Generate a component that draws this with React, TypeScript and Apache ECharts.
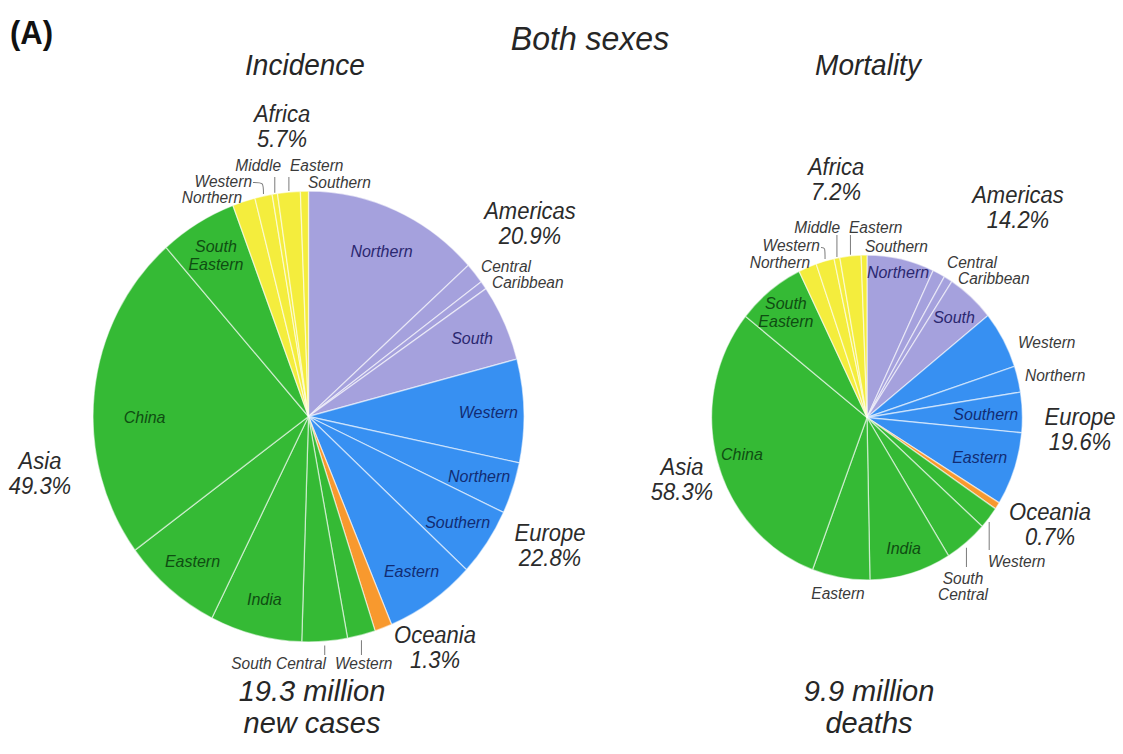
import React, { useEffect, useRef } from 'react';
import * as echarts from 'echarts';

// Share of the world total (%) by region, clockwise from 12 o'clock.
const continents = ['Americas', 'Europe', 'Oceania', 'Asia', 'Africa'];

const americasRegions = ['Northern', 'Central', 'Caribbean', 'South'];
const europeRegions = ['Western', 'Northern', 'Southern', 'Eastern'];
const oceaniaRegions = ['Oceania'];
const asiaRegions = ['Western', 'South Central', 'India', 'Eastern', 'China', 'South Eastern'];
const africaRegions = ['Northern', 'Western', 'Middle', 'Eastern', 'Southern'];

const incidenceAmericas = [13.3, 1.5, 0.6, 5.5];
const incidenceEurope = [7.4, 3.7, 4.9, 6.8];
const incidenceOceania = [1.3];
const incidenceAsia = [2.1, 3.4, 6.9, 7.5, 23.6, 5.8];
const incidenceAfrica = [1.7, 1.3, 0.4, 1.7, 0.6];

const mortalityAmericas = [7.0, 1.3, 0.9, 5.0];
const mortalityEurope = [5.7, 2.6, 4.0, 7.3];
const mortalityOceania = [0.7];
const mortalityAsia = [2.2, 4.5, 8.5, 6.0, 30.0, 7.1];
const mortalityAfrica = [1.9, 1.9, 0.6, 2.2, 0.6];

const incidenceMillions = 19.3;
const mortalityMillions = 9.9;

// ---- presentation ----
const W = 1123;
const STRETCH = 1.046; // the figure is slightly taller than wide
const H = 721;
const FONT = '"Liberation Sans", Arial, Helvetica, sans-serif';
const py = (y: number) => y / STRETCH;

const continentColors: Record<string, string> = {
  Americas: '#a5a1dd',
  Europe: '#3790f2',
  Oceania: '#f8992e',
  Asia: '#35ba35',
  Africa: '#f4ed3d',
};
const insideLabelColors: Record<string, string> = {
  Americas: '#2b2870',
  Europe: '#122c72',
  Asia: '#0f4d12',
};
const RING_FRACTION: Record<string, number> = { C: 0.765, A: 0.835, B: 0.915 };

type Geo = { cx: number; cy: number; r: number };
const incidenceGeo: Geo = { cx: 308.5, cy: py(416.5), r: 215.5 };
const mortalityGeo: Geo = { cx: 867, cy: py(417.5), r: 155.4 };

const regionLists = [americasRegions, europeRegions, oceaniaRegions, asiaRegions, africaRegions];

type Slice = { continent: string; region: string; value: number; key: string };

function buildSlices(valueLists: number[][]): Slice[] {
  const out: Slice[] = [];
  continents.forEach((c, ci) =>
    regionLists[ci].forEach((r, ri) =>
      out.push({ continent: c, region: r, value: valueLists[ci][ri], key: c + '/' + r })
    )
  );
  return out;
}

const incidenceSlices = buildSlices([incidenceAmericas, incidenceEurope, incidenceOceania, incidenceAsia, incidenceAfrica]);
const mortalitySlices = buildSlices([mortalityAmericas, mortalityEurope, mortalityOceania, mortalityAsia, mortalityAfrica]);

function midAngle(slices: Slice[], key: string) {
  const total = slices.reduce((s, d) => s + d.value, 0);
  let acc = 0;
  for (const d of slices) {
    if (d.key === key) return ((acc + d.value / 2) / total) * 360;
    acc += d.value;
  }
  return 0;
}
function edgePoint(geo: Geo, deg: number) {
  const a = (deg * Math.PI) / 180;
  return [geo.cx + geo.r * Math.sin(a), geo.cy - geo.r * Math.cos(a)];
}
function continentTotal(slices: Slice[], c: string) {
  return slices.filter((d) => d.continent === c).reduce((s, d) => s + d.value, 0);
}

// which label ring each inside label sits on
const incidenceInside: Record<string, string> = {
  'Americas/Northern': 'A', 'Americas/South': 'A',
  'Europe/Western': 'A', 'Europe/Northern': 'A', 'Europe/Southern': 'A', 'Europe/Eastern': 'A',
  'Asia/India': 'A', 'Asia/Eastern': 'A', 'Asia/China': 'C', 'Asia/South Eastern': 'A',
};
const mortalityInside: Record<string, string> = {
  'Americas/Northern': 'B', 'Americas/South': 'A',
  'Europe/Southern': 'C', 'Europe/Eastern': 'C',
  'Asia/India': 'A', 'Asia/China': 'A', 'Asia/South Eastern': 'A',
};
// vertical nudges (px) for inside labels that sit off their slice's middle
const incidenceNudge: Record<string, number> = { 'Asia/China': 18, 'Americas/Northern': 6 };
const mortalityNudge: Record<string, number> = {};

type Outside = { keys: string[]; x: number; y: number; align: string; text?: string };
const incidenceOutside: Outside[] = [
  { keys: ['Americas/Central', 'Americas/Caribbean'], x: 481, y: 274.5, align: 'left' },
  { keys: ['Africa/Middle'], x: 281, y: 165, align: 'right' },
  { keys: ['Africa/Eastern'], x: 290, y: 165, align: 'left' },
  { keys: ['Africa/Western'], x: 252, y: 181.5, align: 'right' },
  { keys: ['Africa/Southern'], x: 308, y: 182, align: 'left' },
  { keys: ['Africa/Northern'], x: 242, y: 197.5, align: 'right' },
  { keys: ['Asia/South Central'], x: 326, y: 663, align: 'right' },
  { keys: ['Asia/Western'], x: 335, y: 663, align: 'left' },
];
const mortalityOutside: Outside[] = [
  { keys: ['Americas/Central', 'Americas/Caribbean'], x: 947, y: 270.5, align: 'left' },
  { keys: ['Africa/Middle'], x: 840, y: 227, align: 'right' },
  { keys: ['Africa/Eastern'], x: 849, y: 227, align: 'left' },
  { keys: ['Africa/Western'], x: 820, y: 245.5, align: 'right' },
  { keys: ['Africa/Southern'], x: 865, y: 246, align: 'left' },
  { keys: ['Africa/Northern'], x: 810, y: 262, align: 'right' },
  { keys: ['Europe/Western'], x: 1018, y: 342, align: 'left' },
  { keys: ['Europe/Northern'], x: 1025, y: 375, align: 'left' },
  { keys: ['Asia/Western'], x: 988, y: 561, align: 'left' },
  { keys: ['Asia/South Central'], x: 963, y: 586, align: 'center', text: 'South\nCentral' },
  { keys: ['Asia/Eastern'], x: 838, y: 593, align: 'center' },
];

type Leader = { key: string; side: 'top' | 'bottom'; gap: number; endY: number };
const incidenceLeaders: Leader[] = [
  { key: 'Africa/Middle', side: 'top', gap: 1, endY: 177 },
  { key: 'Africa/Eastern', side: 'top', gap: 1, endY: 177 },
  { key: 'Asia/South Central', side: 'bottom', gap: 4, endY: 655 },
  { key: 'Asia/Western', side: 'bottom', gap: 5, endY: 655 },
];
const mortalityLeaders: Leader[] = [
  { key: 'Africa/Middle', side: 'top', gap: 1, endY: 235 },
  { key: 'Africa/Eastern', side: 'top', gap: 1, endY: 235 },
  { key: 'Asia/Western', side: 'bottom', gap: 4, endY: 550 },
  { key: 'Asia/South Central', side: 'bottom', gap: 5, endY: 567 },
];
const incidenceHook = { key: 'Africa/Western', x: 253, y: 182.5 };
const mortalityHook = { key: 'Africa/Western', x: 821, y: 247.5 };

// centre of each two-line continent label
const continentLabelPos = {
  incidence: [
    { continent: 'Africa', x: 282, y: 127 },
    { continent: 'Americas', x: 530, y: 224 },
    { continent: 'Europe', x: 550, y: 546 },
    { continent: 'Oceania', x: 435, y: 648 },
    { continent: 'Asia', x: 40, y: 474 },
  ],
  mortality: [
    { continent: 'Africa', x: 836, y: 180 },
    { continent: 'Americas', x: 1018, y: 208 },
    { continent: 'Europe', x: 1080, y: 430 },
    { continent: 'Oceania', x: 1050, y: 525 },
    { continent: 'Asia', x: 682, y: 480 },
  ],
};

function insideText(region: string) {
  return region === 'South Eastern' ? 'South\nEastern' : region;
}

function pieSeries(slices: Slice[], geo: Geo, inside: Record<string, string>, nudge: Record<string, number>) {
  const main = {
    type: 'pie',
    center: [geo.cx, geo.cy],
    radius: geo.r,
    startAngle: 90,
    clockwise: true,
    silent: true,
    avoidLabelOverlap: false,
    z: 2,
    label: { show: false },
    labelLine: { show: false },
    emphasis: { disabled: true },
    itemStyle: { borderColor: 'rgba(255,255,255,0.55)', borderWidth: 1.3 },
    data: slices.map((s) => ({
      name: s.key,
      value: s.value,
      itemStyle: { color: continentColors[s.continent] },
    })),
  };
  const rings = Object.keys(RING_FRACTION).map((ringId) => {
    const f = RING_FRACTION[ringId];
    const r0 = 2 * (f * geo.r - 3) - geo.r;
    return {
      type: 'pie',
      center: [geo.cx, geo.cy],
      radius: [r0, geo.r],
      startAngle: 90,
      clockwise: true,
      silent: true,
      avoidLabelOverlap: false,
      z: 3,
      itemStyle: { color: 'rgba(0,0,0,0)', borderWidth: 0 },
      labelLine: { show: false },
      emphasis: { disabled: true },
      label: {
        show: true,
        position: 'inside',
        fontSize: 16,
        lineHeight: 17,
        fontStyle: 'italic',
        fontFamily: FONT,
        textBorderWidth: 0,
        formatter: (p: any) => insideText(slices[p.dataIndex].region),
      },
      labelLayout: (p: any) => {
        const s = slices[p.dataIndex];
        const dy = s && inside[s.key] === ringId ? nudge[s.key] : undefined;
        return dy ? { dy } : {};
      },
      data: slices.map((s) => ({
        name: s.key,
        value: s.value,
        label:
          inside[s.key] === ringId
            ? { show: true, color: insideLabelColors[s.continent] || '#222' }
            : { show: false },
      })),
    };
  });
  return [main, ...rings];
}

function textEl(text: string, x: number, y: number, o: any = {}) {
  const align = o.align || 'center';
  return {
    type: 'text',
    x,
    y,
    silent: true,
    z: 10,
    style: {
      text,
      rich: o.rich,
      fill: o.fill || '#2a2a2a',
      fontSize: o.fontSize || 16,
      fontStyle: o.fontStyle || 'italic',
      fontWeight: o.fontWeight || 'normal',
      fontFamily: FONT,
      lineHeight: o.lineHeight,
      align,
      textAlign: align,
      verticalAlign: 'middle',
      textVerticalAlign: 'middle',
    },
  };
}

function annotations(slices: Slice[], geo: Geo, outside: Outside[], leaders: Leader[], hook: any, conts: any[]) {
  const els: any[] = [];
  conts.forEach((c) => {
    const pct = continentTotal(slices, c.continent).toFixed(1);
    els.push(textEl(`${c.continent}\n${pct}%`, c.x, py(c.y), { fontSize: 22, lineHeight: 23.6, fill: '#2b2b2b' }));
  });
  const small = { fontSize: 15.5, lineHeight: 15.5, fill: '#3a3a3a' };
  outside.forEach((o) => {
    const names = o.keys.map((k) => k.split('/')[1]);
    // a stacked pair: second name indented a little
    const text = o.text || (names.length > 1 ? `${names[0]}\n{ind|${names[1]}}` : names[0]);
    els.push(
      textEl(text, o.x, py(o.y), {
        ...small,
        align: o.align,
        rich: { ind: { padding: [0, 0, 0, 11], lineHeight: 15.5, fontSize: 15.5, fontStyle: 'italic', fontFamily: FONT, fill: '#3a3a3a' } },
      })
    );
  });
  leaders.forEach((l) => {
    const [x, y] = edgePoint(geo, midAngle(slices, l.key));
    const y1 = l.side === 'top' ? y - l.gap : y + l.gap;
    els.push({
      type: 'line',
      silent: true,
      z: 9,
      shape: { x1: x, y1, x2: x, y2: py(l.endY) },
      style: { stroke: '#7a7a7a', lineWidth: 1 },
    });
  });
  const [hx, hy] = edgePoint(geo, midAngle(slices, hook.key));
  els.push({
    type: 'bezierCurve',
    silent: true,
    z: 9,
    shape: {
      x1: hook.x, y1: py(hook.y),
      cpx1: hx, cpy1: py(hook.y),
      cpx2: hx, cpy2: py(hook.y),
      x2: hx, y2: hy - 2,
    },
    style: { stroke: '#7a7a7a', lineWidth: 1, fill: 'none' },
  });
  return els;
}

function buildOption() {
  const big = { fontSize: 29, fill: '#262626' };
  const graphic = [
    textEl('(A)', 10, py(33), { align: 'left', fontSize: 31, fontStyle: 'normal', fontWeight: 'bold', fill: '#111' }),
    textEl('Both sexes', 590, py(38), { fontSize: 32, fill: '#262626' }),
    textEl('Incidence', 305, py(65), { fontSize: 28, fill: '#262626' }),
    textEl('Mortality', 868, py(65), { fontSize: 28, fill: '#262626' }),
    textEl(`${incidenceMillions} million\nnew cases`, 312, py(706), { ...big, lineHeight: 31 }),
    textEl(`${mortalityMillions} million\ndeaths`, 869, py(706), { ...big, lineHeight: 31 }),
    ...annotations(incidenceSlices, incidenceGeo, incidenceOutside, incidenceLeaders, incidenceHook, continentLabelPos.incidence),
    ...annotations(mortalitySlices, mortalityGeo, mortalityOutside, mortalityLeaders, mortalityHook, continentLabelPos.mortality),
  ];
  return {
    animation: false,
    backgroundColor: '#ffffff',
    series: [
      ...pieSeries(incidenceSlices, incidenceGeo, incidenceInside, incidenceNudge),
      ...pieSeries(mortalitySlices, mortalityGeo, mortalityInside, mortalityNudge),
    ],
    graphic,
  };
}

export default function App() {
  const ref = useRef<HTMLDivElement>(null);
  useEffect(() => {
    if (!ref.current) return;
    const chart = echarts.init(ref.current, undefined, { renderer: 'svg', width: W, height: H });
    chart.setOption(buildOption() as any);
    return () => chart.dispose();
  }, []);
  return (
    <div
      style={{
        position: 'absolute',
        left: 0,
        top: 0,
        width: W,
        height: 754,
        overflow: 'hidden',
        background: '#fff',
      }}
    >
      <div
        ref={ref}
        style={{ width: W, height: H, transform: `scaleY(${STRETCH})`, transformOrigin: '0 0' }}
      />
    </div>
  );
}
